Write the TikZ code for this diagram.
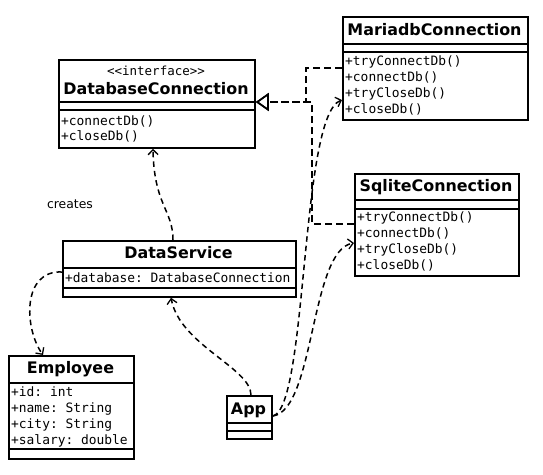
\documentclass[tikz,border=0pt]{standalone}
\usepackage{fontspec}
\setmainfont{DejaVu Sans}
\setmonofont{DejaVu Sans Mono}
\usetikzlibrary{arrows.meta}
\newcommand{\hsep}[2]{\draw[sepline] (#1.west |- 0,#2) -- (#1.east |- 0,#2);}
\begin{document}
\begin{tikzpicture}[x=1pt,y=-1pt,
  classbox/.style={draw, line width=1.8pt, inner sep=0pt, anchor=north west},
  sepline/.style={line width=1.8pt},
  title/.style={font=\fontsize{15.9}{18}\selectfont\bfseries, inner sep=0pt, text height=11.6pt, text depth=0pt},
  member/.style={font=\fontsize{12.9}{15}\selectfont\ttfamily, anchor=west, inner sep=0pt, text height=9.4pt, text depth=0pt},
  stereo/.style={font=\fontsize{12.5}{14}\selectfont\ttfamily, inner sep=0pt, text height=8.8pt, text depth=0pt},
  dep/.style={line width=1.5pt, dash pattern=on 5.5pt off 4pt, -{Straight Barb[length=5pt,width=10pt,line width=1.3pt]}},
  real/.style={line width=1.5pt, dash pattern=on 7pt off 4pt, -{Triangle[open,length=13pt,width=18pt,line width=1.6pt]}},
  lbl/.style={font=\fontsize{12.4}{14}\selectfont, inner sep=0pt}
]
\useasboundingbox (0,0) rectangle (543,474);

% DatabaseConnection
\node[classbox, minimum width=196pt, minimum height=88pt] (dbc) at (58,59) {};
\hsep{dbc}{102}\hsep{dbc}{110}
\node[stereo] (dbcst) at (156,71) {<<interface>>};
\node[title] (dbct) at (156,89) {DatabaseConnection};
\node[member] (dbcm1) at (61,121) {+connectDb()};
\node[member] (dbcm2) at (61,136) {+closeDb()};

% MariadbConnection
\node[classbox, minimum width=185pt, minimum height=103pt] (maria) at (342,16) {};
\hsep{maria}{44}\hsep{maria}{52}
\node[title] (mariat) at (434.5,30) {MariadbConnection};
\node[member] (mariam1) at (345,61) {+tryConnectDb()};
\node[member] (mariam2) at (345,77) {+connectDb()};
\node[member] (mariam3) at (345,93) {+tryCloseDb()};
\node[member] (mariam4) at (345,109) {+closeDb()};

% SqliteConnection
\node[classbox, minimum width=164pt, minimum height=102pt] (sqlite) at (354,173) {};
\hsep{sqlite}{200}\hsep{sqlite}{209}
\node[title] (sqlitet) at (436,186) {SqliteConnection};
\node[member] (sqlitem1) at (357,217) {+tryConnectDb()};
\node[member] (sqlitem2) at (357,233) {+connectDb()};
\node[member] (sqlitem3) at (357,249) {+tryCloseDb()};
\node[member] (sqlitem4) at (357,265) {+closeDb()};

% DataService
\node[classbox, minimum width=233pt, minimum height=56pt] (ds) at (62,240) {};
\hsep{ds}{268}\hsep{ds}{288}
\node[title] (dst) at (178.5,253) {DataService};
\node[member] (dsm1) at (65,278) {+database: DatabaseConnection};

% Employee
\node[classbox, minimum width=125pt, minimum height=103pt] (emp) at (8,355) {};
\hsep{emp}{383}\hsep{emp}{449}
\node[title] (empt) at (70.5,368) {Employee};
\node[member] (empm1) at (11,392) {+id: int};
\node[member] (empm2) at (11,408) {+name: String};
\node[member] (empm3) at (11,424) {+city: String};
\node[member] (empm4) at (11,440) {+salary: double};

% App
\node[classbox, minimum width=45pt, minimum height=43pt] (app) at (226,395) {};
\hsep{app}{423}\hsep{app}{431}
\node[title] (appt) at (248.5,409) {App};

% label
\node[lbl] (creates) at (70,204) {creates};

% realizations
\draw[real] (maria.west |- 0,68) -- ++(-36,0) |- (dbc.east |- 0,102);
\draw[real] (sqlite.west |- 0,224) -- ++(-42,0) |- (dbc.east |- 0,102);

% dependencies
\draw[dep] (ds.north -| 173,0) .. controls (173,210) and (154,205) .. (dbc.south -| 153,0);
\draw[dep] (ds.west |- 0,272) .. controls (22,270) and (24,328) .. (emp.north -| 43,0);
\draw[dep] (app.north -| 251,0) .. controls (251,368) and (180,345) .. (ds.south -| 171,0);
\draw[dep] (app.east |- 0,416) .. controls (308,408) and (300,115) .. (maria.west |- 0,100);
\draw[dep] (app.east |- 0,416) .. controls (315,410) and (310,250) .. (sqlite.west |- 0,243);
\end{tikzpicture}
\end{document}
